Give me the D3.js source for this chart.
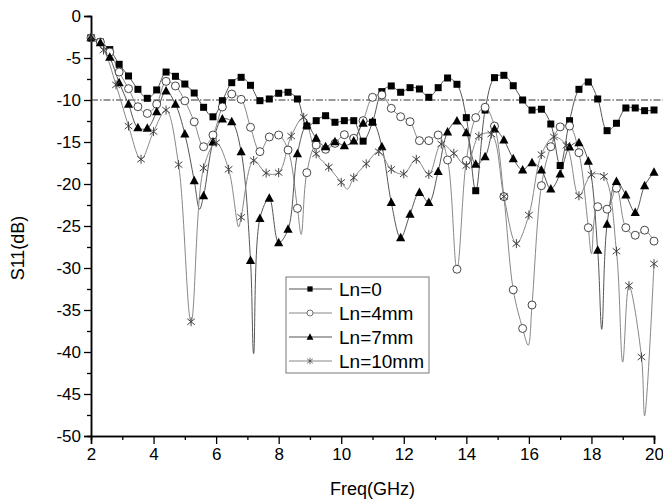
<!DOCTYPE html>
<html>
<head>
<meta charset="utf-8">
<script src="https://cdn.jsdelivr.net/npm/d3@7"></script>
<style>
  body { margin: 0; background: #fff; }
  svg { font-family: "Liberation Sans", Arial, sans-serif; }
</style>
</head>
<body>
<svg id="chart" width="663" height="500"></svg>
<script>
// frequency grids (GHz)
var freqA = [2.0, 2.3, 2.6, 2.9, 3.2, 3.5, 3.8, 4.1, 4.4, 4.7, 5.0, 5.3, 5.6, 5.9, 6.2, 6.5, 6.8, 7.1, 7.4, 7.7,
  8.0, 8.3, 8.6, 8.9, 9.2, 9.5, 9.8, 10.1, 10.4, 10.7, 11.0, 11.3, 11.6, 11.9, 12.2, 12.5, 12.8, 13.1, 13.4, 13.7,
  14.0, 14.3, 14.6, 14.9, 15.2, 15.5, 15.8, 16.1, 16.4, 16.7, 17.0, 17.3, 17.6, 17.9, 18.2, 18.5, 18.8, 19.1, 19.4, 19.7, 20.0];
var freqB = [2.0, 2.4, 2.8, 3.2, 3.6, 4.0, 4.4, 4.8, 5.2, 5.6, 6.0, 6.4, 6.8, 7.2, 7.6, 8.0, 8.4, 8.8, 9.2, 9.6,
  10.0, 10.4, 10.8, 11.2, 11.6, 12.0, 12.4, 12.8, 13.2, 13.6, 14.0, 14.4, 14.8, 15.2, 15.6, 16.0, 16.4, 16.8, 17.2, 17.6,
  18.0, 18.4, 18.8, 19.2, 19.6, 20.0];

// S11 (dB) at the marked points
var ln0 = [-2.6, -3.1, -4.0, -5.75, -7.14, -8.73, -9.8, -8.8, -6.67, -7.18, -8.1, -9.17, -10.87, -12.0, -10.08, -7.94, -7.3, -8.25, -10.08, -9.88,
  -9.2, -9.08, -9.88, -13.1, -12.46, -11.87, -12.65, -12.46, -12.46, -14.9, -12.65, -9.0, -8.33, -9.08, -8.53, -8.69, -9.68, -8.53, -7.38, -8.13,
  -12.1, -20.8, -11.2, -7.34, -7.06, -8.3, -10.0, -11.2, -11.1, -12.86, -17.8, -12.46, -8.73, -7.86, -9.88, -13.65, -12.77, -10.95, -10.95, -11.27, -11.19];
var ln4 = [-2.6, -3.1, -4.3, -6.67, -8.65, -10.8, -11.6, -10.5, -7.78, -8.33, -10.1, -12.6, -15.56, -14.17, -10.83, -9.29, -9.92, -13.25, -16.15, -14.4,
  -14.17, -15.95, -22.9, -18.65, -15.36, -15.87, -15.16, -14.13, -14.56, -12.46, -9.68, -9.4, -10.99, -11.99, -12.58, -14.84, -14.84, -14.17, -17.14, -30.15,
  -17.2, -12.1, -10.87, -13.1, -21.5, -32.6, -37.2, -34.4, -20.2, -15.56, -13.2, -13.1, -16.27, -25.2, -22.7, -23.0, -20.5, -25.2, -26.1, -25.5, -26.8];
var ln7 = [-2.6, -3.17, -4.92, -7.94, -10.5, -13.3, -13.37, -11.4, -8.93, -10.5, -14.05, -19.6, -21.4, -15.0, -12.26, -12.58, -16.15, -29.1, -24.1, -21.7,
  -27.0, -25.4, -16.4, -12.98, -14.56, -15.56, -14.96, -15.44, -14.88, -12.78, -12.6, -15.56, -22.2, -26.4, -23.6, -21.0, -22.2, -18.5, -13.8, -12.5,
  -13.9, -17.65, -16.75, -13.45, -14.76, -17.0, -18.33, -17.46, -18.33, -20.6, -18.8, -15.6, -15.08, -17.3, -27.9, -24.8, -19.7, -21.3, -23.4, -20.2, -18.6];
var ln10 = [-2.6, -4.05, -8.2, -13.1, -17.06, -13.77, -11.2, -17.7, -36.4, -18.1, -15.08, -18.25, -23.96, -17.2, -18.7, -18.65, -14.3, -12.06, -16.4, -18.0,
  -19.8, -19.25, -17.6, -16.15, -18.25, -18.8, -17.06, -18.85, -15.24, -16.35, -17.8, -14.3, -14.05, -21.5, -27.1, -23.7, -16.5, -14.4, -15.4, -21.4,
  -18.9, -19.1, -28.0, -32.1, -40.6, -29.5];

// unmarked curve minima between markers [GHz, dB]
var ln4Dips = [[8.72, -26.0], [15.98, -39.2], [18.0, -28.3]];
var ln7Dips = [[5.47, -23.0], [7.2, -40.2], [18.33, -37.3]];
var ln10Dips = [[6.72, -25.1], [10.2, -20.6], [19.0, -41.2], [19.7, -47.6]];

var seriesNames = ["Ln=0", "Ln=4mm", "Ln=7mm", "Ln=10mm"];
var threshold = -10;
var thresholdSpan = [2, 20.3];

var yMajor = [0, -5, -10, -15, -20, -25, -30, -35, -40, -45, -50];
var yMinor = [-2.5, -7.5, -12.5, -17.5, -22.5, -27.5, -32.5, -37.5, -42.5, -47.5];
var xMajor = [2, 4, 6, 8, 10, 12, 14, 16, 18, 20];
var xMinor = [3, 5, 7, 9, 11, 13, 15, 17, 19];

var svg = d3.select("#chart");

var x = d3.scaleLinear().domain([2, 20]).range([91, 654]);
var y = d3.scaleLinear().domain([-50, 0]).range([436, 16]);

function pts(xs, ys) {
  return xs.map(function(d, i) { return [d, ys[i]]; });
}

var series = [
  {name: seriesNames[0], marks: pts(freqA, ln0), dips: [], stroke: "#555", shape: "square"},
  {name: seriesNames[1], marks: pts(freqA, ln4), dips: ln4Dips, stroke: "#888", shape: "circle"},
  {name: seriesNames[2], marks: pts(freqA, ln7), dips: ln7Dips, stroke: "#555", shape: "triangle"},
  {name: seriesNames[3], marks: pts(freqB, ln10), dips: ln10Dips, stroke: "#888", shape: "star"}
];

// axes
svg.append("g")
  .attr("transform", "translate(" + x(2) + ",0)")
  .call(d3.axisLeft(y).tickValues(yMajor).tickSize(7).tickPadding(3).tickFormat(function(d) { return String(d); }));
svg.append("g")
  .attr("transform", "translate(" + x(2) + ",0)")
  .call(d3.axisLeft(y).tickValues(yMinor).tickSize(4).tickFormat(""));
svg.append("g")
  .attr("transform", "translate(0," + y(-50) + ")")
  .call(d3.axisBottom(x).tickValues(xMajor).tickSize(8).tickPadding(4).tickFormat(function(d) { return String(d); }));
svg.append("g")
  .attr("transform", "translate(0," + y(-50) + ")")
  .call(d3.axisBottom(x).tickValues(xMinor).tickSize(4).tickFormat(""));

svg.selectAll(".domain").attr("stroke", "#000").attr("stroke-width", 1.5);
svg.selectAll(".tick line").attr("stroke", "#000").attr("stroke-width", 1.3);
svg.selectAll(".tick text").attr("fill", "#000").style("font-size", "17px");

svg.append("text")
  .attr("transform", "translate(24,248) rotate(-90)")
  .attr("text-anchor", "middle")
  .style("font-size", "18px")
  .text("S11(dB)");
svg.append("text")
  .attr("x", x(11))
  .attr("y", 495)
  .attr("text-anchor", "middle")
  .style("font-size", "18px")
  .text("Freq(GHz)");

// -10 dB reference
svg.append("line")
  .attr("x1", x(thresholdSpan[0])).attr("x2", x(thresholdSpan[1]))
  .attr("y1", y(threshold)).attr("y2", y(threshold))
  .attr("stroke", "#333")
  .attr("stroke-width", 1)
  .attr("stroke-dasharray", "7,2,1.5,2");

var line = d3.line()
  .curve(d3.curveCatmullRom.alpha(0.5))
  .x(function(d) { return x(d[0]); })
  .y(function(d) { return y(d[1]); });

series.forEach(function(s) {
  var all = s.marks.concat(s.dips).sort(function(a, b) { return a[0] - b[0]; });
  svg.append("path")
    .datum(all)
    .attr("d", line)
    .attr("fill", "none")
    .attr("stroke", s.stroke)
    .attr("stroke-width", 1);
});

function drawMarker(g, shape) {
  if (shape == "square") {
    g.append("rect").attr("x", -3.5).attr("y", -3.5).attr("width", 7).attr("height", 7).attr("fill", "#000");
  } else if (shape == "circle") {
    g.append("circle").attr("r", 4).attr("fill", "#fff").attr("stroke", "#333").attr("stroke-width", 0.9);
  } else if (shape == "triangle") {
    g.append("path").attr("d", "M0,-5L4.6,3.5L-4.6,3.5Z").attr("fill", "#000");
  } else {
    g.append("path").attr("d", "M0,-4.5V4.5M-3.8,-3L3.8,3M-3.8,3L3.8,-3")
      .attr("stroke", "#444").attr("stroke-width", 1).attr("fill", "none");
  }
}

series.forEach(function(s) {
  svg.append("g").selectAll("g")
    .data(s.marks)
    .join("g")
    .attr("transform", function(d) { return "translate(" + x(d[0]) + "," + y(d[1]) + ")"; })
    .each(function() { drawMarker(d3.select(this), s.shape); });
});

// legend
var legend = svg.append("g").attr("transform", "translate(286,277)");
legend.append("rect")
  .attr("width", 143).attr("height", 96)
  .attr("fill", "#fff").attr("stroke", "#777").attr("stroke-width", 1);
series.forEach(function(s, i) {
  var row = legend.append("g").attr("transform", "translate(0," + (12 + i * 24) + ")");
  row.append("line").attr("x1", 3).attr("x2", 46).attr("stroke", s.stroke).attr("stroke-width", 1);
  var m = row.append("g").attr("transform", "translate(24,0) scale(0.75)");
  drawMarker(m, s.shape);
  row.append("text")
    .attr("x", 53).attr("y", 7)
    .style("font-size", "19px")
    .text(s.name);
});
</script>
</body>
</html>
